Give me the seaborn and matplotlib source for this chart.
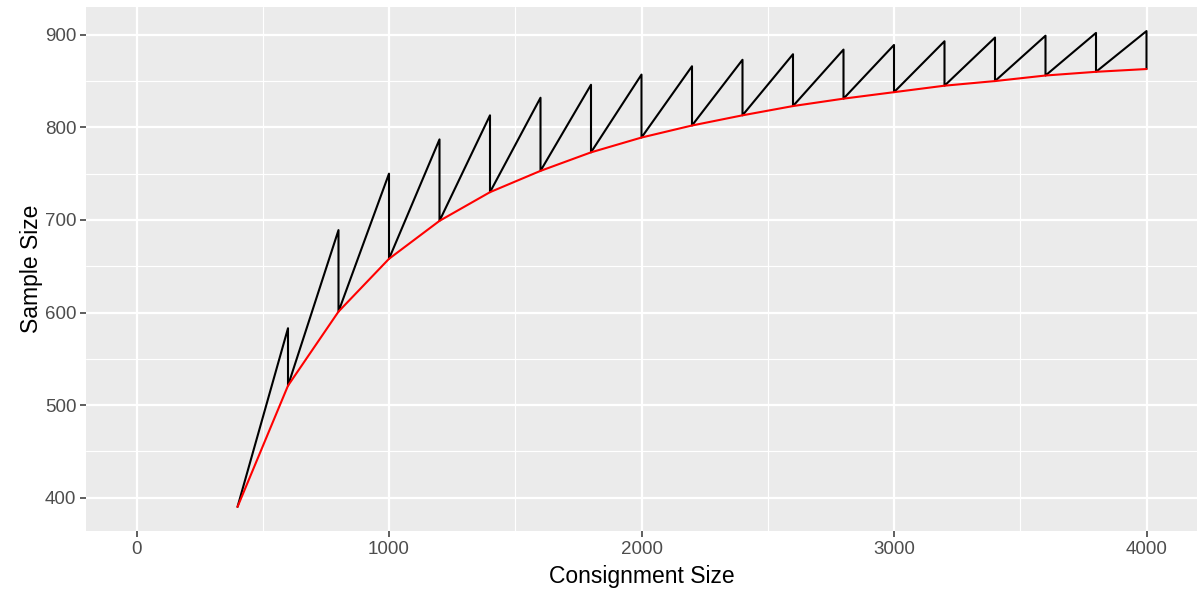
import numpy as np
import pandas as pd
import matplotlib.pyplot as plt
import seaborn as sns

# consignment sizes and values
consignment = [400, 600, 800, 1000, 1200, 1400, 1600, 1800, 2000, 2200,
               2400, 2600, 2800, 3000, 3200, 3400, 3600, 3800, 4000]
# red curve (lower envelope)
red_size = [390, 521, 601, 658, 699, 730, 753, 773, 789, 802,
            813, 823, 831, 838, 845, 850, 856, 860, 863]
# black sawtooth peaks reached just before each jump (from 600 onwards)
peak_size = [583, 689, 750, 787, 813, 832, 846, 857, 866,
             873, 879, 884, 889, 893, 897, 899, 902, 904]

# build the sawtooth path: start on red, climb to the peak, drop back to red
saw_x = [consignment[0]]
saw_y = [red_size[0]]
for i in range(1, len(consignment)):
    saw_x += [consignment[i], consignment[i]]
    saw_y += [peak_size[i - 1], red_size[i]]
saw = pd.DataFrame({"x": saw_x, "y": saw_y})
red = pd.DataFrame({"x": consignment, "y": red_size})

sns.set_theme(style="darkgrid")
plt.rcParams["font.family"] = ["Liberation Sans", "DejaVu Sans"]

fig = plt.figure(figsize=(12, 5.97), dpi=100)
ax = fig.add_axes([86 / 1200, 1 - 531 / 597, (1197 - 86) / 1200, (531 - 7) / 597])
ax.set_facecolor("#EBEBEB")

sns.lineplot(data=saw, x="x", y="y", sort=False, estimator=None,
             color="black", linewidth=1.5, ax=ax)
sns.lineplot(data=red, x="x", y="y", sort=False, estimator=None,
             color="red", linewidth=1.5, ax=ax)

ax.set_xlim(-200, 4200)
ax.set_ylim(364, 930)
ax.set_xticks([0, 1000, 2000, 3000, 4000])
ax.set_yticks([400, 500, 600, 700, 800, 900])
ax.set_xticks([500, 1500, 2500, 3500], minor=True)
ax.set_yticks([450, 550, 650, 750, 850], minor=True)
ax.grid(which="major", color="white", linewidth=1.6)
ax.grid(which="minor", color="white", linewidth=0.8)
ax.set_axisbelow(True)
for s in ax.spines.values():
    s.set_visible(False)

ax.tick_params(which="major", length=4, width=1.1, color="#333333",
               labelcolor="#4D4D4D", labelsize=13.5, pad=3, bottom=True, left=True)
ax.tick_params(which="minor", length=0)

ax.set_xlabel("Consignment Size", fontsize=16.5, color="black", labelpad=5)
ax.set_ylabel("Sample Size", fontsize=16.5, color="black", labelpad=1)

fig.patch.set_facecolor("white")
fig.savefig("out.png", dpi=100)
